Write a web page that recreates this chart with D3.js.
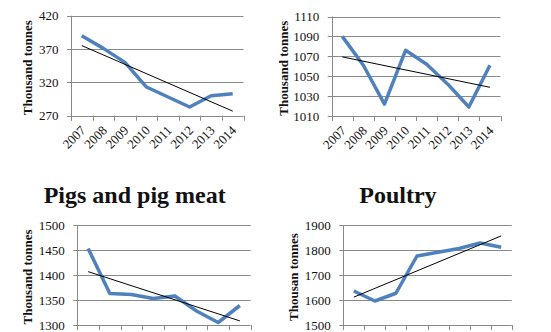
<!DOCTYPE html>
<html>
<head>
<meta charset="utf-8">
<script src="https://cdn.jsdelivr.net/npm/d3@7"></script>
<style>
  html, body { margin: 0; padding: 0; background: #fff; }
  svg { display: block; }
</style>
</head>
<body>
<svg id="chart" width="551" height="332"></svg>
<script>
// ---- data ----
const years = ["2007", "2008", "2009", "2010", "2011", "2012", "2013", "2014"];

const sheepValues   = [390, 371, 350, 313, 298, 283, 300, 303];
const cattleValues  = [1090, 1061, 1022, 1076, 1062, 1042, 1019, 1061];
const pigValues     = [1453, 1363, 1361, 1353, 1358, 1328, 1305, 1339];
const poultryValues = [1636, 1596, 1627, 1776, 1791, 1806, 1828, 1811];

const sheepTicks   = [270, 320, 370, 420];
const cattleTicks  = [1010, 1030, 1050, 1070, 1090, 1110];
const pigTicks     = [1300, 1350, 1400, 1450, 1500];
const poultryTicks = [1500, 1600, 1700, 1800, 1900];

const panelTitles = ["", "", "Pigs and pig meat", "Poultry"];
const axisTitles  = ["Thousand tonnes", "Thousand tonnes", "Thousand tonnes", "Thousan tonnes"];

// ---- layout ----
const panels = [
  { values: sheepValues,   ticks: sheepTicks,   left: 71,    right: 243.5, top: 15.7, bottom: 115.7, titleX: 27.5,  titleCx: 0,     showX: true },
  { values: cattleValues,  ticks: cattleTicks,  left: 331.7, right: 500.5, top: 16.5, bottom: 116,   titleX: 283.5, titleCx: 0,     showX: true },
  { values: pigValues,     ticks: pigTicks,     left: 77.3,  right: 250.7, top: 225,  bottom: 325,   titleX: 27.5,  titleCx: 134.7, showX: false },
  { values: poultryValues, ticks: poultryTicks, left: 343.3, right: 511.7, top: 225,  bottom: 325,   titleX: 293.5, titleCx: 397.9, showX: false }
];

const svg = d3.select("#chart");
const serif = "'Liberation Serif', 'Times New Roman', serif";
const gridColor = "#8a8a8a";
const lineColor = "#4f81bd";

function linreg(vals) {
  const n = vals.length;
  const xs = d3.range(n);
  const mx = d3.mean(xs), my = d3.mean(vals);
  let sxy = 0, sxx = 0;
  xs.forEach((x, i) => { sxy += (x - mx) * (vals[i] - my); sxx += (x - mx) * (x - mx); });
  const slope = sxy / sxx;
  return i => my + slope * (i - mx);
}

panels.forEach((p, idx) => {
  const g = svg.append("g");
  const x = d3.scaleBand().domain(years).range([p.left, p.right]).padding(0);
  const y = d3.scaleLinear().domain(d3.extent(p.ticks)).range([p.bottom, p.top]);

  // gridlines
  g.selectAll(".grid").data(p.ticks).join("line")
    .attr("x1", p.left - 4).attr("x2", p.right)
    .attr("y1", d => Math.round(y(d)) + 0.5).attr("y2", d => Math.round(y(d)) + 0.5)
    .attr("stroke", gridColor).attr("stroke-width", 1);

  // y tick labels
  g.selectAll(".ylab").data(p.ticks).join("text")
    .attr("x", p.left - 12.5).attr("y", d => y(d))
    .attr("dy", "0.35em")
    .attr("text-anchor", "end")
    .attr("font-family", serif).attr("font-size", 13)
    .attr("fill", "#111")
    .text(d => d);

  // left axis line
  g.append("line")
    .attr("x1", Math.round(p.left) + 0.5).attr("x2", Math.round(p.left) + 0.5)
    .attr("y1", p.top).attr("y2", p.bottom + 5)
    .attr("stroke", gridColor).attr("stroke-width", 1);

  // x ticks at category boundaries
  const bounds = years.map(yr => x(yr)).concat([p.right]);
  g.selectAll(".xt").data(bounds).join("line")
    .attr("x1", d => Math.round(d) + 0.5).attr("x2", d => Math.round(d) + 0.5)
    .attr("y1", p.bottom).attr("y2", p.bottom + 5)
    .attr("stroke", gridColor).attr("stroke-width", 1);

  // x labels (rotated) - bottom-row labels fall outside the picture
  if (p.showX) {
    g.selectAll(".xl").data(years).join("text")
      .attr("transform", d => `translate(${x(d) + x.bandwidth() / 2 + 4.5},${p.bottom + 15.5}) rotate(-45)`)
      .attr("text-anchor", "end")
      .attr("font-family", serif).attr("font-size", 13)
      .attr("fill", "#111")
      .text(d => d);
  }

  // y axis title
  g.append("text")
    .attr("transform", `translate(${p.titleX + 4.5},${(p.top + p.bottom) / 2 + 2}) rotate(-90)`)
    .attr("text-anchor", "middle")
    .attr("font-family", serif).attr("font-size", 13).attr("font-weight", "bold")
    .attr("fill", "#111")
    .text(axisTitles[idx]);

  // panel title
  if (panelTitles[idx]) {
    g.append("text")
      .attr("x", p.titleCx).attr("y", 203)
      .attr("text-anchor", "middle")
      .attr("font-family", serif).attr("font-size", 24).attr("font-weight", "bold")
      .attr("fill", "#111")
      .text(panelTitles[idx]);
  }

  // data line
  const cx = yr => x(yr) + x.bandwidth() / 2;
  g.append("path")
    .datum(p.values)
    .attr("fill", "none")
    .attr("stroke", lineColor).attr("stroke-width", 3.5)
    .attr("stroke-linejoin", "round")
    .attr("d", d3.line().x((d, i) => cx(years[i])).y(d => y(d)));

  // linear trendline
  const f = linreg(p.values);
  const n = years.length;
  g.append("line")
    .attr("x1", cx(years[0])).attr("y1", y(f(0)))
    .attr("x2", cx(years[n - 1])).attr("y2", y(f(n - 1)))
    .attr("stroke", "#000").attr("stroke-width", 1);
});
</script>
</body>
</html>
